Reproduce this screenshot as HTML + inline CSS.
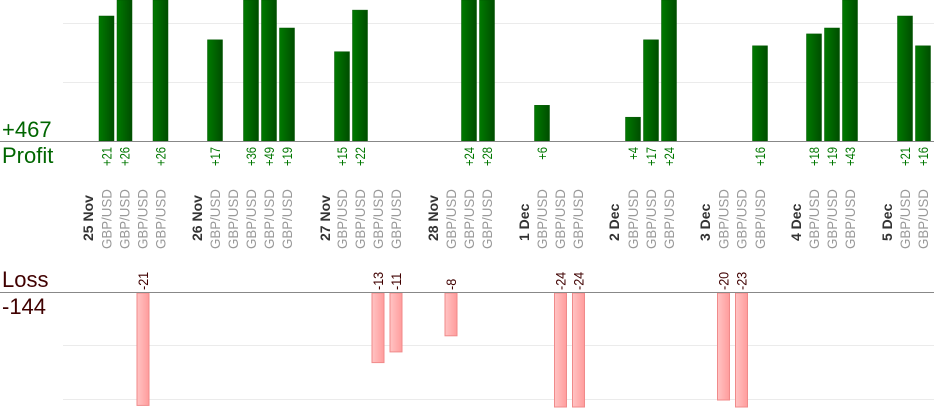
<!DOCTYPE html>
<html><head><meta charset="utf-8"><style>
html,body{margin:0;padding:0;background:#fff;}
svg{display:block;font-family:"Liberation Sans",sans-serif;}
.pv{font-size:14px;fill:#007700;text-anchor:end}
.lv{font-size:14px;fill:#400000}
.d{font-size:14px;font-weight:bold;fill:#333}
.s{font-size:14px;fill:#999}
</style></head><body>
<svg width="934" height="420" xmlns="http://www.w3.org/2000/svg">
<defs>
<linearGradient id="g" x1="0" x2="1" y1="0" y2="0"><stop offset="0" stop-color="#007a00"/><stop offset="1" stop-color="#004d00"/></linearGradient>
<linearGradient id="r" x1="0" x2="1" y1="0" y2="0"><stop offset="0" stop-color="#ffc4c4"/><stop offset="1" stop-color="#ff9c9c"/></linearGradient>
</defs>
<g stroke="#ebebeb" stroke-width="1">
<line x1="63" x2="934" y1="23.5" y2="23.5"/><line x1="63" x2="934" y1="82.5" y2="82.5"/>
<line x1="63" x2="934" y1="345.5" y2="345.5"/><line x1="63" x2="934" y1="399.5" y2="399.5"/>
</g>
<g fill="url(#g)" stroke="#005500" stroke-width="0.5">
<rect x="99" y="16" width="15" height="125"/>
<rect x="117" y="0" width="15" height="141"/>
<rect x="153" y="0" width="15" height="141"/>
<rect x="207.5" y="39.8" width="15" height="101.2"/>
<rect x="243.5" y="0" width="15" height="141"/>
<rect x="261.5" y="0" width="15" height="141"/>
<rect x="279.5" y="28" width="15" height="113"/>
<rect x="334.5" y="51.7" width="15" height="89.3"/>
<rect x="352.5" y="10.1" width="15" height="130.9"/>
<rect x="461.5" y="0" width="15" height="141"/>
<rect x="479.5" y="0" width="15" height="141"/>
<rect x="534.5" y="105.3" width="15" height="35.7"/>
<rect x="625.5" y="117.2" width="15" height="23.8"/>
<rect x="643.5" y="39.8" width="15" height="101.2"/>
<rect x="661.5" y="0" width="15" height="141"/>
<rect x="752.5" y="45.8" width="15" height="95.2"/>
<rect x="806.5" y="33.9" width="15" height="107.1"/>
<rect x="824.5" y="28" width="15" height="113"/>
<rect x="842.5" y="0" width="15" height="141"/>
<rect x="897.5" y="16" width="15" height="125"/>
<rect x="915.5" y="45.8" width="15" height="95.2"/>
</g>
<g fill="url(#r)" stroke="#f08a8a" stroke-width="1">
<rect x="137" y="293" width="12" height="112.4"/>
<rect x="372" y="293" width="12" height="69.6"/>
<rect x="390" y="293" width="12" height="58.9"/>
<rect x="445" y="293" width="12" height="42.8"/>
<rect x="554.5" y="293" width="12" height="114"/>
<rect x="572.5" y="293" width="12" height="114"/>
<rect x="717.5" y="293" width="12" height="107"/>
<rect x="735.5" y="293" width="12" height="114"/>
</g>
<line x1="0" x2="934" y1="141.5" y2="141.5" stroke="#888"/>
<line x1="0" x2="934" y1="292.5" y2="292.5" stroke="#888"/>
<text x="2" y="137" font-size="22" fill="#006600">+467</text>
<text x="2" y="163" font-size="22" fill="#006600">Profit</text>
<text x="2" y="287" font-size="22" fill="#400000">Loss</text>
<text x="2" y="314" font-size="22" fill="#400000">-144</text>

<g>
<text class="pv" transform="translate(111.5,147) rotate(-90) scale(0.8,1)">+21</text>
<text class="pv" transform="translate(129.5,147) rotate(-90) scale(0.8,1)">+26</text>
<text class="pv" transform="translate(165.5,147) rotate(-90) scale(0.8,1)">+26</text>
<text class="pv" transform="translate(220,147) rotate(-90) scale(0.8,1)">+17</text>
<text class="pv" transform="translate(256,147) rotate(-90) scale(0.8,1)">+36</text>
<text class="pv" transform="translate(274,147) rotate(-90) scale(0.8,1)">+49</text>
<text class="pv" transform="translate(292,147) rotate(-90) scale(0.8,1)">+19</text>
<text class="pv" transform="translate(347,147) rotate(-90) scale(0.8,1)">+15</text>
<text class="pv" transform="translate(365,147) rotate(-90) scale(0.8,1)">+22</text>
<text class="pv" transform="translate(474,147) rotate(-90) scale(0.8,1)">+24</text>
<text class="pv" transform="translate(492,147) rotate(-90) scale(0.8,1)">+28</text>
<text class="pv" transform="translate(547,147) rotate(-90) scale(0.8,1)">+6</text>
<text class="pv" transform="translate(638,147) rotate(-90) scale(0.8,1)">+4</text>
<text class="pv" transform="translate(656,147) rotate(-90) scale(0.8,1)">+17</text>
<text class="pv" transform="translate(674,147) rotate(-90) scale(0.8,1)">+24</text>
<text class="pv" transform="translate(765,147) rotate(-90) scale(0.8,1)">+16</text>
<text class="pv" transform="translate(819,147) rotate(-90) scale(0.8,1)">+18</text>
<text class="pv" transform="translate(837,147) rotate(-90) scale(0.8,1)">+19</text>
<text class="pv" transform="translate(855,147) rotate(-90) scale(0.8,1)">+43</text>
<text class="pv" transform="translate(910,147) rotate(-90) scale(0.8,1)">+21</text>
<text class="pv" transform="translate(928,147) rotate(-90) scale(0.8,1)">+16</text>
</g>

<text class="lv" transform="translate(148,290) rotate(-90) scale(0.9,1)">-21</text>
<text class="lv" transform="translate(383,290) rotate(-90) scale(0.9,1)">-13</text>
<text class="lv" transform="translate(401,290) rotate(-90) scale(0.9,1)">-11</text>
<text class="lv" transform="translate(456,290) rotate(-90) scale(0.9,1)">-8</text>
<text class="lv" transform="translate(565.5,290) rotate(-90) scale(0.9,1)">-24</text>
<text class="lv" transform="translate(583.5,290) rotate(-90) scale(0.9,1)">-24</text>
<text class="lv" transform="translate(728.5,290) rotate(-90) scale(0.9,1)">-20</text>
<text class="lv" transform="translate(746.5,290) rotate(-90) scale(0.9,1)">-23</text>

<text class="d" transform="translate(93,241) rotate(-90)">25 Nov</text>
<text class="d" transform="translate(202,241) rotate(-90)">26 Nov</text>
<text class="d" transform="translate(330,241) rotate(-90)">27 Nov</text>
<text class="d" transform="translate(438,241) rotate(-90)">28 Nov</text>
<text class="d" transform="translate(529,241) rotate(-90)">1 Dec</text>
<text class="d" transform="translate(619,241) rotate(-90)">2 Dec</text>
<text class="d" transform="translate(710,241) rotate(-90)">3 Dec</text>
<text class="d" transform="translate(801,241) rotate(-90)">4 Dec</text>
<text class="d" transform="translate(892,241) rotate(-90)">5 Dec</text>

<g>
<text class="s" transform="translate(111.5,249) rotate(-90) scale(0.95,1)">GBP/USD</text>
<text class="s" transform="translate(129.5,249) rotate(-90) scale(0.95,1)">GBP/USD</text>
<text class="s" transform="translate(147.5,249) rotate(-90) scale(0.95,1)">GBP/USD</text>
<text class="s" transform="translate(165.5,249) rotate(-90) scale(0.95,1)">GBP/USD</text>
<text class="s" transform="translate(220,249) rotate(-90) scale(0.95,1)">GBP/USD</text>
<text class="s" transform="translate(238,249) rotate(-90) scale(0.95,1)">GBP/USD</text>
<text class="s" transform="translate(256,249) rotate(-90) scale(0.95,1)">GBP/USD</text>
<text class="s" transform="translate(274,249) rotate(-90) scale(0.95,1)">GBP/USD</text>
<text class="s" transform="translate(292,249) rotate(-90) scale(0.95,1)">GBP/USD</text>
<text class="s" transform="translate(347,249) rotate(-90) scale(0.95,1)">GBP/USD</text>
<text class="s" transform="translate(365,249) rotate(-90) scale(0.95,1)">GBP/USD</text>
<text class="s" transform="translate(383,249) rotate(-90) scale(0.95,1)">GBP/USD</text>
<text class="s" transform="translate(401,249) rotate(-90) scale(0.95,1)">GBP/USD</text>
<text class="s" transform="translate(456,249) rotate(-90) scale(0.95,1)">GBP/USD</text>
<text class="s" transform="translate(474,249) rotate(-90) scale(0.95,1)">GBP/USD</text>
<text class="s" transform="translate(492,249) rotate(-90) scale(0.95,1)">GBP/USD</text>
<text class="s" transform="translate(547,249) rotate(-90) scale(0.95,1)">GBP/USD</text>
<text class="s" transform="translate(565,249) rotate(-90) scale(0.95,1)">GBP/USD</text>
<text class="s" transform="translate(583,249) rotate(-90) scale(0.95,1)">GBP/USD</text>
<text class="s" transform="translate(638,249) rotate(-90) scale(0.95,1)">GBP/USD</text>
<text class="s" transform="translate(656,249) rotate(-90) scale(0.95,1)">GBP/USD</text>
<text class="s" transform="translate(674,249) rotate(-90) scale(0.95,1)">GBP/USD</text>
<text class="s" transform="translate(728.5,249) rotate(-90) scale(0.95,1)">GBP/USD</text>
<text class="s" transform="translate(746.5,249) rotate(-90) scale(0.95,1)">GBP/USD</text>
<text class="s" transform="translate(765,249) rotate(-90) scale(0.95,1)">GBP/USD</text>
<text class="s" transform="translate(819,249) rotate(-90) scale(0.95,1)">GBP/USD</text>
<text class="s" transform="translate(837,249) rotate(-90) scale(0.95,1)">GBP/USD</text>
<text class="s" transform="translate(855,249) rotate(-90) scale(0.95,1)">GBP/USD</text>
<text class="s" transform="translate(910,249) rotate(-90) scale(0.95,1)">GBP/USD</text>
<text class="s" transform="translate(928,249) rotate(-90) scale(0.95,1)">GBP/USD</text>
</g>
</svg>
</body></html>
